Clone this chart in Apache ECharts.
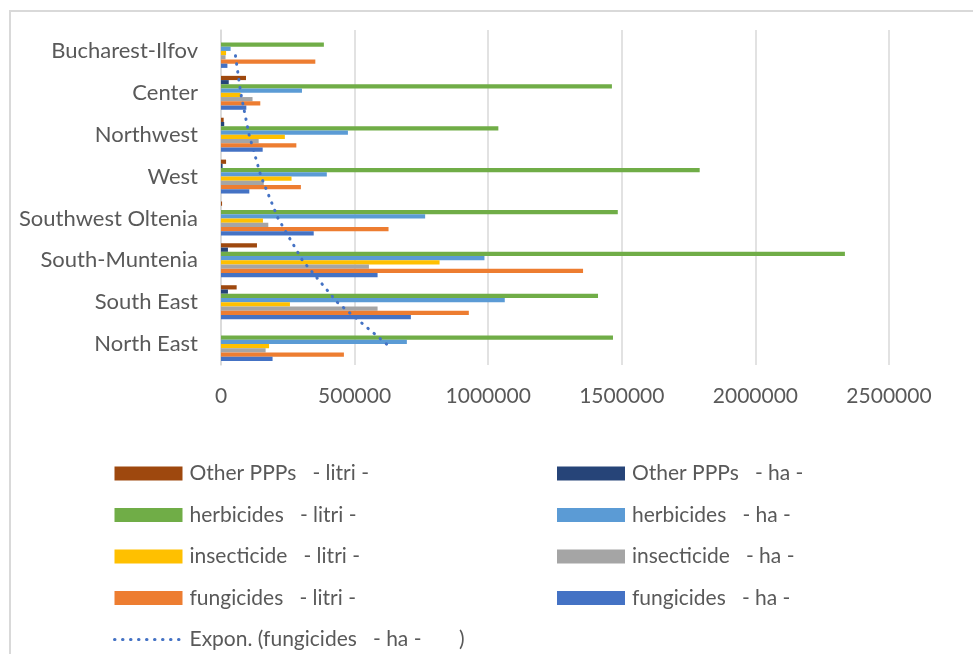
<!DOCTYPE html>
<html>
<head>
<meta charset="utf-8">
<script src="https://cdn.jsdelivr.net/npm/echarts@6/dist/echarts.min.js"></script>
<style>
  html, body { margin: 0; padding: 0; background: #ffffff; }
  #chart { width: 973px; height: 654px; }
</style>
</head>
<body>
<div id="chart"></div>
<script>
// Regions, listed from the bottom of the chart to the top
const regions = ['North East', 'South East', 'South-Muntenia', 'Southwest Oltenia', 'West', 'Northwest', 'Center', 'Bucharest-Ilfov'];

// Plant protection product use per region
const fungicidesHa   = [193000, 710600, 586000, 347000, 106000, 156000, 94800, 24000];
const fungicidesL    = [460000, 927500, 1355000, 627000, 299000, 282000, 147000, 353000];
const insecticideHa  = [167000, 586000, 553600, 177000, 160000, 141000, 118000, 17000];
const insecticideL   = [180000, 258000, 818000, 157000, 264000, 239000, 73500, 19000];
const herbicidesHa   = [695600, 1062000, 986000, 764000, 396000, 475000, 303000, 36000];
const herbicidesL    = [1467000, 1411000, 2335000, 1485000, 1791500, 1038000, 1463000, 385000];
const otherHa        = [0, 26000, 26000, 0, 6000, 12000, 29000, 0];
const otherL         = [0, 58600, 134600, 4000, 19000, 10000, 93500, 0];

// Value axis ticks
const xTicks = [0, 500000, 1000000, 1500000, 2000000, 2500000];

// Series names
const N_FUNG_HA = 'fungicides   - ha -';
const N_FUNG_L  = 'fungicides   - litri -';
const N_INS_HA  = 'insecticide   - ha -';
const N_INS_L   = 'insecticide   - litri -';
const N_HERB_HA = 'herbicides   - ha -';
const N_HERB_L  = 'herbicides   - litri -';
const N_OTH_HA  = 'Other PPPs   - ha -';
const N_OTH_L   = 'Other PPPs   - litri -';
const N_TREND   = 'Expon. (fungicides   - ha -       )';

// Exponential least-squares fit y = a * e^(b x) over x = 1..n
function expTrend(values) {
  const pts = values.map((v, i) => [i + 1, v]).filter(p => p[1] > 0);
  const n = pts.length;
  let sx = 0, sy = 0, sxx = 0, sxy = 0;
  pts.forEach(([x, y]) => {
    const ly = Math.log(y);
    sx += x; sy += ly; sxx += x * x; sxy += x * ly;
  });
  const b = (n * sxy - sx * sy) / (n * sxx - sx * sx);
  const lnA = (sy - b * sx) / n;
  return values.map((_, i) => Math.exp(lnA + b * (i + 1)));
}
const fungicidesHaTrend = expTrend(fungicidesHa);

const FONT = 'Lato';
const TXT = '#595959';
const TREND_LINE = { color: '#4472C4', width: 3, type: [0.5, 7.5], cap: 'round' };

function bar(name, data, color) {
  return {
    name: name,
    type: 'bar',
    data: data,
    barGap: '0%',
    barCategoryGap: '19%',
    itemStyle: { color: color },
    z: 2
  };
}

const chart = echarts.init(document.getElementById('chart'), null, { renderer: 'canvas' });

const legendText = { fontFamily: FONT, fontSize: 21, color: TXT, padding: [0, 0, 0, 2] };
const legendBase = {
  orient: 'vertical',
  top: 463,
  height: 240,
  padding: 0,
  itemWidth: 68,
  itemHeight: 14,
  itemGap: 20.5,
  textStyle: legendText
};

chart.setOption({
  animation: false,
  backgroundColor: '#ffffff',
  graphic: [{
    type: 'rect',
    shape: { x: 10, y: 11, width: 1000, height: 700 },
    style: { fill: null, stroke: '#D9D9D9', lineWidth: 2 },
    z: -1,
    silent: true
  }],
  grid: { left: 221, right: 84, top: 30, bottom: 289, containLabel: false },
  xAxis: {
    type: 'value',
    min: xTicks[0],
    max: xTicks[xTicks.length - 1],
    interval: xTicks[1] - xTicks[0],
    axisLine: { show: false },
    axisTick: { show: false },
    splitLine: { show: true, lineStyle: { color: '#D9D9D9', width: 1.5 } },
    axisLabel: {
      fontFamily: FONT, fontSize: 21, color: TXT, margin: 21,
      formatter: v => String(v)
    }
  },
  yAxis: {
    type: 'category',
    data: regions,
    axisLine: { show: true, lineStyle: { color: '#D9D9D9', width: 1.5 } },
    axisTick: { show: false },
    axisLabel: { fontFamily: FONT, fontSize: 22, color: TXT, margin: 23 }
  },
  legend: [
    Object.assign({}, legendBase, {
      left: 113,
      data: [
        { name: N_OTH_L, icon: 'rect' },
        { name: N_HERB_L, icon: 'rect' },
        { name: N_INS_L, icon: 'rect' },
        { name: N_FUNG_L, icon: 'rect' },
        { name: N_TREND, itemStyle: { opacity: 0 }, lineStyle: TREND_LINE }
      ]
    }),
    Object.assign({}, legendBase, {
      left: 557,
      data: [
        { name: N_OTH_HA, icon: 'rect' },
        { name: N_HERB_HA, icon: 'rect' },
        { name: N_INS_HA, icon: 'rect' },
        { name: N_FUNG_HA, icon: 'rect' }
      ]
    })
  ],
  // Listed top-to-bottom within each region group
  series: [
    bar(N_OTH_L, otherL, '#9E480E'),
    bar(N_OTH_HA, otherHa, '#264478'),
    bar(N_HERB_L, herbicidesL, '#70AD47'),
    bar(N_HERB_HA, herbicidesHa, '#5B9BD5'),
    bar(N_INS_L, insecticideL, '#FFC000'),
    bar(N_INS_HA, insecticideHa, '#A5A5A5'),
    bar(N_FUNG_L, fungicidesL, '#ED7D31'),
    bar(N_FUNG_HA, fungicidesHa, '#4472C4'),
    {
      name: N_TREND,
      type: 'line',
      data: fungicidesHaTrend,
      symbol: 'none',
      smooth: false,
      z: 5,
      itemStyle: { color: '#4472C4' },
      lineStyle: TREND_LINE
    }
  ]
});
</script>
</body>
</html>
